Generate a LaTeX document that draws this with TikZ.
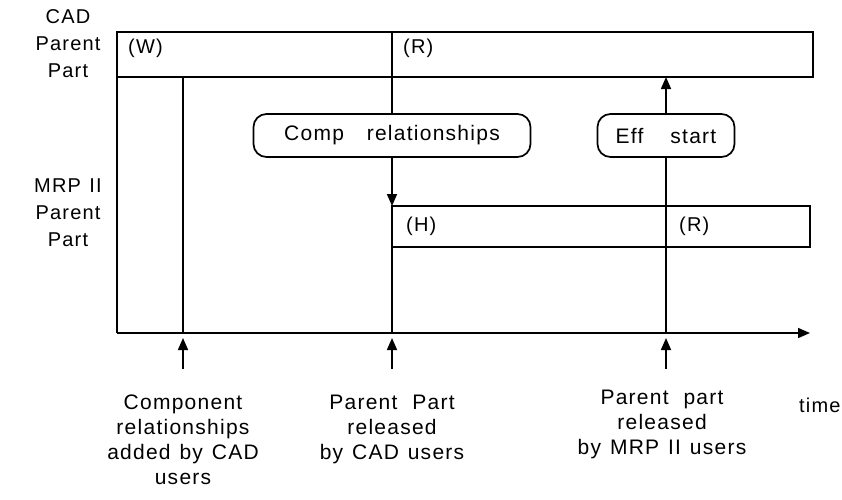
\documentclass[tikz,border=0pt]{standalone}
\usepackage{fontspec}
\setmainfont{Liberation Sans}[LetterSpace=6, WordSpace=1.25]
\usetikzlibrary{arrows.meta,positioning}
\begin{document}
\begin{tikzpicture}[x=1pt,y=-1pt,
  bar/.style={draw, line width=1.7pt, inner sep=0pt, outer sep=0pt, anchor=north west},
  pill/.style={draw, line width=1.7pt, outer sep=0pt, rounded corners=13pt, minimum height=43pt, inner xsep=10pt, font=\fontsize{21}{24}\selectfont},
  lbl/.style={font=\fontsize{20}{24}\selectfont, inner sep=0pt},
  captxt/.style={font=\fontsize{21}{25}\selectfont, align=center, inner sep=0pt, anchor=north},
  side/.style={font=\fontsize{20}{27}\selectfont, align=center, inner sep=0pt, anchor=north},
  wire/.style={line width=1.6pt},
  arr/.style={line width=1.6pt, -{Triangle[length=12pt,width=10pt]}}
]
\useasboundingbox (0,0) rectangle (842,499);

% side labels
\node[side] (cadlab) at (68,9) {CAD\\Parent\\Part};
\node[side] (mrplab) at (68,179) {MRP II\\Parent\\Part};

% CAD parent part bar
\node[bar, minimum width=275pt, minimum height=45pt] (cadW) at (117,32) {};
\node[bar, minimum width=421pt, minimum height=45pt] (cadR) at (392,32) {};
\node[lbl, anchor=west] (tW) at (128,48) {(W)};
\node[lbl, anchor=west] (tR1) at (403,48) {(R)};

% MRP II parent part bar
\node[bar, minimum width=274pt, minimum height=41pt] (mrpH) at (392,206) {};
\node[bar, minimum width=144pt, minimum height=41pt] (mrpR) at (666,206) {};
\node[lbl, anchor=west] (tH) at (406,226) {(H)};
\node[lbl, anchor=west] (tR2) at (679,226) {(R)};

% rounded boxes
\node[pill, minimum width=277pt] (comp) at (392,135.5) {Comp\hspace{14pt} relationships};
\node[pill, minimum width=137pt] (eff) at (666,135.5) {Eff\hspace{18pt} start};

% axis
\coordinate (ax0) at (117,333);
\coordinate (axE) at (810,333);
\coordinate (t1) at (183,333);
\coordinate (t2) at (392,333);
\coordinate (t3) at (666,333);
\draw[wire] (cadW.south west) -- (ax0);
\draw[arr] (ax0) -- (axE);

% verticals
\draw[wire] (t1 |- cadW.south) -- (t1);
\draw[wire] (cadW.south east) -- (comp.north);
\draw[arr] (comp.south) -- (mrpH.north west);
\draw[wire] (mrpH.south west) -- (t2);
\draw[arr] (eff.north) -- (eff.north |- cadR.south);
\draw[wire] (eff.south) -- (mrpH.north east);
\draw[wire] (mrpH.south east) -- (t3);

% event arrows
\coordinate (a1) at (183,369);
\coordinate (a2) at (392,369);
\coordinate (a3) at (666,369);
\draw[arr] (a1) -- ++(0,-31);
\draw[arr] (a2) -- ++(0,-31);
\draw[arr] (a3) -- ++(0,-31);

% captions
\node[captxt] (c1) at (183,395) {Component\\relationships\\added by CAD\\users};
\node[captxt] (c2) at (392,395) {Parent\hspace{6pt} Part\\released\\by CAD users};
\node[captxt] (c3) at (662,390) {Parent\hspace{6pt} part\\released\\by MRP II users};
\node[lbl, anchor=west] (time) at (799,405) {time};
\end{tikzpicture}
\end{document}
